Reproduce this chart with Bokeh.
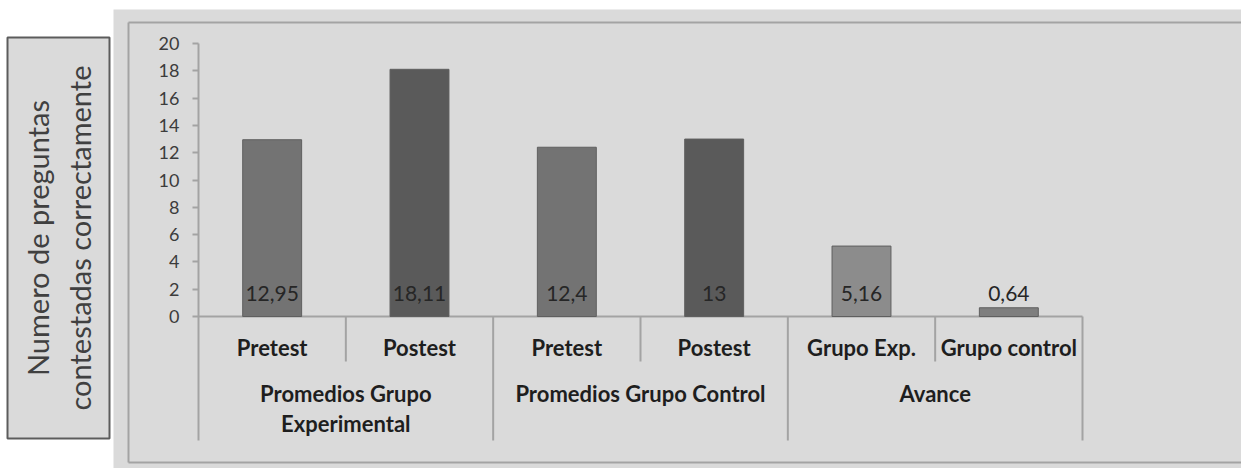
from bokeh.plotting import figure
from bokeh.models import Range1d, FixedTicker, ColumnDataSource, LinearAxis
from bokeh.embed import file_html
from bokeh.resources import INLINE
from bokeh.core.properties import value

# ---------------- data ----------------
groups = ["Promedios Grupo Experimental", "Promedios Grupo Experimental",
          "Promedios Grupo Control", "Promedios Grupo Control",
          "Avance", "Avance"]
subcats = ["Pretest", "Postest", "Pretest", "Postest", "Grupo Exp.", "Grupo control"]
values = [12.95, 18.11, 12.4, 13.0, 5.16, 0.64]
group_names = ["Promedios Grupo Experimental", "Promedios Grupo Control", "Avance"]
group_labels = ["Promedios Grupo\nExperimental", "Promedios Grupo Control", "Avance"]
y_ticks = [0, 2, 4, 6, 8, 10, 12, 14, 16, 18, 20]
y_title = "Numero de preguntas\ncontestadas correctamente"

# ---------------- styles / layout (page pixels) ----------------
bar_colors = ["#737373", "#5a5a5a", "#737373", "#5a5a5a", "#8c8c8c", "#7e7e7e"]
BG = "#dadada"
LINE = "#a3a3a3"
TEXT = "#1e1e1e"
FONT = "Lato"
W, H = 1241, 468
GREY_L, GREY_T = 113, 9                 # grey chart area
BOX_L, BOX_T, BOX_B = 128, 22, 462      # inner chart border
TBOX_L, TBOX_R, TBOX_T, TBOX_B = 7, 109, 37, 438   # title box
AX_X, Y20, Y0, AX_BOTTOM, CAT_RIGHT = 198, 43, 316, 440, 1082
SHORT_SEP = 361

n = len(subcats)
px_unit_y = (Y0 - Y20) / 20.0
px_unit_x = (CAT_RIGHT - AX_X) / n


def px2x(px):
    return (px - AX_X) / px_unit_x


def py2y(py):
    return (Y0 - py) / px_unit_y


p = figure(width=W, height=H, x_range=Range1d(px2x(0), px2x(W)),
           y_range=Range1d(py2y(H), py2y(0)), output_backend="svg",
           toolbar_location=None, x_axis_location=None, y_axis_location=None,
           min_border=0)
p.background_fill_color = "white"
p.border_fill_color = "white"
p.outline_line_color = None
p.grid.visible = False

# grey chart area and its border
p.quad(left=[px2x(GREY_L)], right=[px2x(W + 5)], top=[py2y(GREY_T)],
       bottom=[py2y(H + 5)], fill_color=BG, line_color=None)
p.multi_line(xs=[[px2x(BOX_L)] * 2, [px2x(BOX_L), px2x(W + 5)], [px2x(BOX_L), px2x(W + 5)]],
             ys=[[py2y(BOX_T), py2y(BOX_B)], [py2y(BOX_T)] * 2, [py2y(BOX_B)] * 2],
             line_color=LINE, line_width=2)

# title box
p.quad(left=[px2x(TBOX_L)], right=[px2x(TBOX_R)], top=[py2y(TBOX_T)],
       bottom=[py2y(TBOX_B)], fill_color=BG, line_color="#5c5c5c", line_width=2)
p.text(x=[px2x((TBOX_L + TBOX_R) / 2)], y=[py2y((TBOX_T + TBOX_B) / 2)],
       text=[y_title], angle=90, angle_units="deg", text_align="center",
       text_baseline="middle", text_font=value(FONT), text_font_size="29px",
       text_color="#404040", text_line_height=1.18)

# y axis at the left edge of the first category
yax = LinearAxis(fixed_location=0, bounds=(py2y(AX_BOTTOM), 20),
                 ticker=FixedTicker(ticks=y_ticks))
yax.minor_tick_line_color = None
yax.major_tick_in = 0
yax.major_tick_out = 6
yax.major_label_standoff = 13
yax.axis_line_color = LINE
yax.axis_line_width = 2
yax.major_tick_line_color = LINE
yax.major_tick_line_width = 2
yax.major_label_text_font = FONT
yax.major_label_text_font_size = "18px"
yax.major_label_text_color = "#3c3c3c"
p.add_layout(yax, "left")

# category positions
x_pos = [i + 0.5 for i in range(n)]
group_pos = [sum(x for x, g in zip(x_pos, groups) if g == name) /
             groups.count(name) for name in group_names]

# baseline
p.segment(x0=[0], x1=[n], y0=[0], y1=[0], line_color=LINE, line_width=2)

# bars
src = ColumnDataSource(dict(x=x_pos, top=values, color=bar_colors,
                            label=[f"{v:g}".replace(".", ",") for v in values]))
p.vbar(x="x", top="top", width=0.40, source=src, fill_color="color",
       line_color="#5f5f5f", line_width=1)
p.text(x="x", y=0, text="label", source=src, text_align="center",
       text_baseline="alphabetic", y_offset=-23, text_font=value(FONT),
       text_font_size="21px", text_color="#262626")

# category separators
bounds = [i + 1 for i in range(n)]
long_b = [b for b in bounds if b == n or groups[b] != groups[b - 1]]
short_b = [b for b in bounds if b not in long_b]
p.segment(x0=short_b, x1=short_b, y0=[0] * len(short_b),
          y1=[py2y(SHORT_SEP)] * len(short_b), line_color=LINE, line_width=2)
p.segment(x0=long_b, x1=long_b, y0=[0] * len(long_b),
          y1=[py2y(AX_BOTTOM)] * len(long_b), line_color=LINE, line_width=2)

# category labels
p.text(x=x_pos, y=[0] * n, text=subcats, text_align="center",
       text_baseline="alphabetic", y_offset=31, text_font=value(FONT),
       text_font_style="bold", text_font_size="22px", text_color=TEXT)
p.text(x=group_pos, y=[0] * len(group_pos), text=group_labels,
       text_align="center", text_baseline="top", y_offset=63,
       text_font=value(FONT), text_font_style="bold", text_font_size="22px",
       text_color=TEXT, text_line_height=1.14)

open("out.html", "w").write(file_html(p, INLINE))
